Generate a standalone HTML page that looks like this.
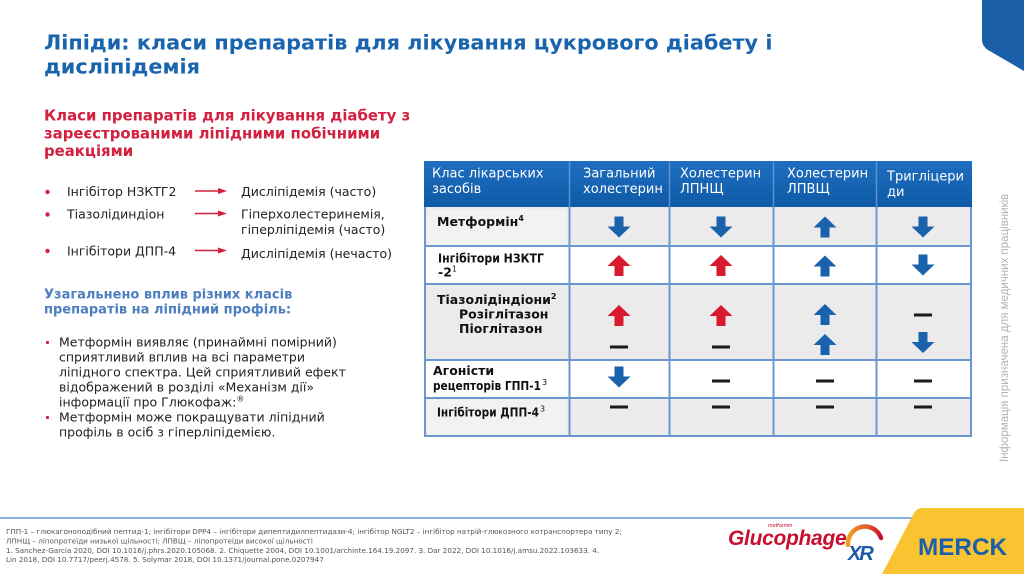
<!DOCTYPE html>
<html>
<head>
<meta charset="utf-8">
<style>
  html,body{margin:0;padding:0;background:#fff;}
  body{width:1024px;height:574px;overflow:hidden;}
  svg{display:block;}
  .dv{font-family:"DejaVu Sans","Liberation Sans","Noto Sans CJK SC",sans-serif;}
  .lb{font-family:"Liberation Sans","DejaVu Sans",sans-serif;}
</style>
</head>
<body>
<svg width="1024" height="574" viewBox="0 0 1024 574" xmlns="http://www.w3.org/2000/svg">
  <defs>
    <linearGradient id="hdr" x1="0" y1="0" x2="0" y2="1">
      <stop offset="0" stop-color="#1f6ec0"/>
      <stop offset="1" stop-color="#0e5aa6"/>
    </linearGradient>
    <linearGradient id="sw" x1="0" y1="0" x2="1" y2="0">
      <stop offset="0" stop-color="#f0a020"/>
      <stop offset="0.6" stop-color="#e2572a"/>
      <stop offset="1" stop-color="#c8102e"/>
    </linearGradient>
  </defs>

  <!-- top-right blue tab -->
  <path d="M982,0 L1024,0 L1024,71 L988,50 Q982,46 982,40 Z" fill="#1c5fa9"/>

  <!-- Title -->
  <g class="dv" font-weight="bold" font-size="20.8" fill="#1a64ae">
    <text x="44" y="49.5">Ліпіди: класи препаратів для лікування цукрового діабету і</text>
    <text x="44" y="73.5">дисліпідемія</text>
  </g>

  <!-- Red subtitle -->
  <g class="dv" font-weight="bold" font-size="14.9" fill="#d3203e">
    <text x="44" y="120.7">Класи препаратів для лікування діабету з</text>
    <text x="44" y="138.3">зареєстрованими ліпідними побічними</text>
    <text x="44" y="156">реакціями</text>
  </g>

  <!-- left list -->
  <g fill="#d3203e">
    <circle cx="47.5" cy="192" r="2.2"/>
    <circle cx="47.5" cy="214.5" r="2.2"/>
    <circle cx="47.5" cy="251" r="2.2"/>
  </g>
  <g stroke="#d3203e" stroke-width="1.6">
    <line x1="195" y1="191" x2="220" y2="191"/>
    <line x1="195" y1="213.5" x2="220" y2="213.5"/>
    <line x1="195" y1="250.5" x2="220" y2="250.5"/>
  </g>
  <g fill="#d3203e">
    <polygon points="218,188 227,191 218,194"/>
    <polygon points="218,210.5 227,213.5 218,216.5"/>
    <polygon points="218,247.5 227,250.5 218,253.5"/>
  </g>
  <g class="dv" font-size="12.5" fill="#222">
    <text x="67" y="196">Інгібітор НЗКТГ2</text>
    <text x="241" y="196">Дисліпідемія (часто)</text>
    <text x="67" y="218.5">Тіазолідиндіон</text>
    <text x="241" y="218.5">Гіперхолестеринемія,</text>
    <text x="241" y="234">гіперліпідемія (часто)</text>
    <text x="67" y="255.5">Інгібітори ДПП-4</text>
    <text x="241" y="258">Дисліпідемія (нечасто)</text>
  </g>

  <!-- Blue subtitle -->
  <g class="dv" font-weight="bold" font-size="13" fill="#4d7fc0">
    <text x="44" y="298.3">Узагальнено вплив різних класів</text>
    <text x="44" y="313.3">препаратів на ліпідний профіль:</text>
  </g>

  <!-- Paragraph -->
  <g fill="#d3203e">
    <circle cx="47.5" cy="342.5" r="1.6"/>
    <circle cx="47.5" cy="417.5" r="1.6"/>
  </g>
  <g class="dv" font-size="12.5" fill="#222">
    <text x="59" y="346.7">Метформін виявляє (принаймні помірний)</text>
    <text x="59" y="361.7">сприятливий вплив на всі параметри</text>
    <text x="59" y="376.7">ліпідного спектра. Цей сприятливий ефект</text>
    <text x="59" y="391.7">відображений в розділі «Механізм дії»</text>
    <text x="59" y="406.7">інформації про Глюкофаж:<tspan font-size="8" dy="-5">®</tspan></text>
    <text x="59" y="421.7">Метформін може покращувати ліпідний</text>
    <text x="59" y="436.7">профіль в осіб з гіперліпідемією.</text>
  </g>

  <!-- TABLE -->
  <rect x="424" y="161" width="548" height="46" fill="url(#hdr)"/>
  <rect x="424" y="207" width="548" height="39" fill="#ebebeb"/>
  <rect x="424" y="246" width="548" height="38" fill="#ffffff"/>
  <rect x="424" y="284" width="548" height="76" fill="#ebebeb"/>
  <rect x="424" y="360" width="548" height="38" fill="#ffffff"/>
  <rect x="424" y="398" width="548" height="38" fill="#ebebeb"/>
  <rect x="427" y="209" width="140" height="36" fill="#f2f2f2"/>
  <rect x="427" y="400" width="140" height="34" fill="#f2f2f2"/>
  <g stroke="#5e92cf" stroke-width="1.5">
    <line x1="569.5" y1="161" x2="569.5" y2="207"/>
    <line x1="669.5" y1="161" x2="669.5" y2="207"/>
    <line x1="773.5" y1="161" x2="773.5" y2="207"/>
    <line x1="876.5" y1="161" x2="876.5" y2="207"/>
  </g>
  <g stroke="#6b98cf" stroke-width="2" fill="none">
    <line x1="569.5" y1="207" x2="569.5" y2="436"/>
    <line x1="669.5" y1="207" x2="669.5" y2="436"/>
    <line x1="773.5" y1="207" x2="773.5" y2="436"/>
    <line x1="876.5" y1="207" x2="876.5" y2="436"/>
    <line x1="424" y1="246" x2="972" y2="246"/>
    <line x1="424" y1="284" x2="972" y2="284"/>
    <line x1="424" y1="360" x2="972" y2="360"/>
    <line x1="424" y1="398" x2="972" y2="398"/>
    <line x1="424" y1="436" x2="972" y2="436"/>
    <line x1="425" y1="207" x2="425" y2="437"/>
    <line x1="971" y1="207" x2="971" y2="437"/>
  </g>

  <!-- header text -->
  <g class="dv" font-size="13" fill="#ffffff">
    <text x="432" y="177.3">Клас лікарських</text>
    <text x="432" y="192.8">засобів</text>
    <text x="583" y="177.3">Загальний</text>
    <text x="583" y="192.8">холестерин</text>
    <text x="680" y="177.3">Холестерин</text>
    <text x="680" y="192.8">ЛПНЩ</text>
    <text x="787" y="177.3">Холестерин</text>
    <text x="787" y="192.8">ЛПВЩ</text>
    <text x="887" y="180.7">Тригліцери</text>
    <text x="887" y="196">ди</text>
  </g>

  <!-- row labels -->
  <g class="dv" font-size="12.5" font-weight="bold" fill="#111">
    <text x="437" y="226">Метформін<tspan font-size="8" dy="-5">4</tspan></text>
    <text x="438" y="262.7" font-size="12" textLength="106" lengthAdjust="spacingAndGlyphs">Інгібітори НЗКТГ</text>
    <text x="438" y="276.7">-2<tspan font-size="8" font-weight="normal" dy="-5">1</tspan></text>
    <text x="437" y="304">Тіазолідіндіони<tspan font-size="8" dy="-5">2</tspan></text>
    <text x="459" y="318.5">Розіглітазон</text>
    <text x="459" y="333">Піоглітазон</text>
    <text x="433" y="375">Агоністи</text>
    <text x="433" y="390" font-size="12" textLength="108" lengthAdjust="spacingAndGlyphs">рецепторів ГПП-1</text>
    <text x="542" y="385" font-size="8" font-weight="normal">3</text>
    <text x="437" y="416.7" font-size="12" textLength="102" lengthAdjust="spacingAndGlyphs">Інгібітори ДПП-4</text>
    <text x="540" y="411.7" font-size="8" font-weight="normal">3</text>
  </g>

  <!-- Row 1 -->
  <g fill="#1b62ad">
    <path d="M614.5,216.5 h9 v10 h7 l-11.5,11 l-11.5,-11 h7 z"/>
    <path d="M716.5,216.5 h9 v10 h7 l-11.5,11 l-11.5,-11 h7 z"/>
    <path d="M820.5,237.5 h9 v-10 h7 l-11.5,-11 l-11.5,11 h7 z"/>
    <path d="M918.5,216.5 h9 v10 h7 l-11.5,11 l-11.5,-11 h7 z"/>
  </g>
  <!-- Row 2 -->
  <g fill="#d8192e">
    <path d="M614.5,276 h9 v-10 h7 l-11.5,-11 l-11.5,11 h7 z"/>
    <path d="M716.5,276 h9 v-10 h7 l-11.5,-11 l-11.5,11 h7 z"/>
  </g>
  <g fill="#1b62ad">
    <path d="M820.5,276.5 h9 v-10 h7 l-11.5,-11 l-11.5,11 h7 z"/>
    <path d="M918.5,254.5 h9 v10 h7 l-11.5,11 l-11.5,-11 h7 z"/>
  </g>
  <!-- Row 3 -->
  <g fill="#d8192e">
    <path d="M614.5,326 h9 v-10 h7 l-11.5,-11 l-11.5,11 h7 z"/>
    <path d="M716.5,326 h9 v-10 h7 l-11.5,-11 l-11.5,11 h7 z"/>
  </g>
  <g fill="#1b62ad">
    <path d="M820.5,325 h9 v-10 h7 l-11.5,-11 l-11.5,11 h7 z"/>
    <path d="M820.5,355 h9 v-10 h7 l-11.5,-11 l-11.5,11 h7 z"/>
    <path d="M918.5,332 h9 v10 h7 l-11.5,11 l-11.5,-11 h7 z"/>
  </g>
  <!-- Row 4 -->
  <g fill="#1b62ad">
    <path d="M614.5,366.5 h9 v10 h7 l-11.5,11 l-11.5,-11 h7 z"/>
  </g>
  <!-- dashes -->
  <g fill="#1a1a1a">
    <rect x="610" y="345.5" width="18" height="3"/>
    <rect x="712" y="345.5" width="18" height="3"/>
    <rect x="914" y="313.5" width="18" height="3"/>
    <rect x="712" y="379.5" width="18" height="3"/>
    <rect x="816" y="379.5" width="18" height="3"/>
    <rect x="914" y="379.5" width="18" height="3"/>
    <rect x="610" y="405.5" width="18" height="3"/>
    <rect x="712" y="405.5" width="18" height="3"/>
    <rect x="816" y="405.5" width="18" height="3"/>
    <rect x="914" y="405.5" width="18" height="3"/>
  </g>

  <!-- vertical side text -->
  <text class="lb" font-size="11.5" fill="#b3b3b3" transform="translate(1008,462) rotate(-90)">Інформація призначена для медичних працівників</text>

  <!-- footer line -->
  <line x1="0" y1="518" x2="914" y2="518" stroke="#5b97d2" stroke-width="1.5"/>

  <!-- footer text -->
  <g class="dv" font-size="7.2" fill="#555">
    <text x="6" y="534">ГПП-1 – глюкагоноподібний пептид-1; інгібітори DPP4 – інгібітори дипептидилпептидази-4; інгібітор NGLT2 – інгібітор натрій-глюкозного котранспортера типу 2;</text>
    <text x="6" y="543.5">ЛПНЩ – ліпопротеїди низької щільності; ЛПВЩ – ліпопротеїди високої щільності</text>
    <text x="6" y="553">1. Sanchez-Garcia 2020, DOI 10.1016/j.phrs.2020.105068. 2. Chiquette 2004, DOI 10.1001/archinte.164.19.2097. 3. Dar 2022, DOI 10.1016/j.amsu.2022.103633. 4.</text>
    <text x="6" y="562">Lin 2018, DOI 10.7717/peerj.4578. 5. Solymar 2018, DOI 10.1371/journal.pone.0207947</text>
  </g>

  <!-- Glucophage XR logo -->
  <text class="lb" x="728" y="545" font-size="21" font-weight="bold" font-style="italic" fill="#c8102e" letter-spacing="-0.3">Glucophage</text>
  <text class="lb" x="768" y="527" font-size="5.5" font-style="italic" fill="#c8102e">metformin</text>
  <path d="M848,545 A17,17 0 0 1 881,538" fill="none" stroke="url(#sw)" stroke-width="4.5" stroke-linecap="round"/>
  <text class="lb" x="848" y="560" font-size="20" font-weight="bold" font-style="italic" fill="#1d5aa8" letter-spacing="-2">XR</text>

  <!-- Merck yellow block -->
  <path d="M882,574 L914,513 Q917,508 923,508 L1024,508 L1024,574 Z" fill="#f9c331"/>
  <text class="lb" x="918" y="555" font-size="24" font-weight="bold" fill="#1a5fab" textLength="89" lengthAdjust="spacingAndGlyphs">MERCK</text>
</svg>
</body>
</html>
